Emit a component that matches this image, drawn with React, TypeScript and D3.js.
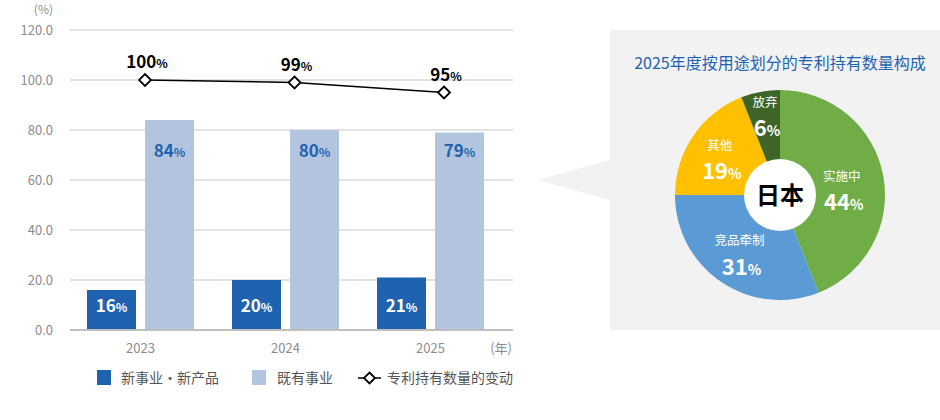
import React from "react";
import * as d3 from "d3";

const years = ["2023", "2024", "2025"];
const newBiz = [16, 20, 21];
const existing = [84, 80, 79];
const patentChange = [100, 99, 95];
const yTicks = [0, 20, 40, 60, 80, 100, 120];
const seriesNames = ["新事业・新产品", "既有事业", "专利持有数量的变动"];

const pieLabels = ["实施中", "竞品牵制", "其他", "放弃"];
const pieValues = [44, 31, 19, 6];
const pieColors = ["#70ad47", "#5b9bd5", "#ffc000", "#3e6428"];
const pieLabelRadius = [62, 72, 70, 80];
const pieLabelAngleShift = [0.11, 0, -0.06, 0];

const FONT = "'Noto Sans CJK SC', 'Noto Sans', sans-serif";
const DARK = "#1f63b0";
const LIGHT = "#b3c5de";

export default function App() {
  const y = d3.scaleLinear().domain([0, 120]).range([330, 30]);
  const x0 = d3.scaleBand<string>().domain(years).range([68, 503]).padding(0);
  const x1 = d3
    .scaleBand<string>()
    .domain(["new", "exist"])
    .range([0, 107])
    .paddingInner(9 / 58)
    .paddingOuter(0);
  const xLine = d3.scalePoint<string>().domain(years).range([145, 444]);
  const groupStart = (yr: string) => (x0(yr) as number) + x0.bandwidth() / 2 - 53.5;

  const lineGen = d3
    .line<number>()
    .x((_, i) => xLine(years[i]) as number)
    .y((d) => y(d));

  const cx = 780;
  const cy = 195;
  const R = 105;
  const pie = d3.pie<number>().sort(null).value((d) => d);
  const arcs = pie(pieValues);
  const arcGen = d3.arc<d3.PieArcDatum<number>>().innerRadius(0).outerRadius(R);

  const diamond = (px: number, py: number, s: number) =>
    `M${px},${py - s} L${px + s},${py} L${px},${py + s} L${px - s},${py} Z`;

  return (
    <svg
      width={940}
      height={420}
      style={{ position: "absolute", left: 0, top: 0, fontFamily: FONT }}
    >
      <rect x={0} y={0} width={940} height={420} fill="#fff" />
      {/* Y axis label */}
      <text x={53} y={14} textAnchor="end" fontSize={12} fill="#8c8c8c">
        (%)
      </text>
      {yTicks.map((t) => (
        <g key={t}>
          {t !== 0 && (
            <line x1={70} x2={513} y1={y(t)} y2={y(t)} stroke="#d9d9d9" strokeWidth={1.5} />
          )}
          <text
            x={53}
            y={y(t)}
            dy="0.35em"
            textAnchor="end"
            fontSize={13}
            fill="#8c8c8c"
          >
            {d3.format(".1f")(t)}
          </text>
        </g>
      ))}
      {/* Bars */}
      {years.map((yr, i) => {
        const gs = groupStart(yr);
        const xd = gs + (x1("new") as number);
        const xl = gs + (x1("exist") as number);
        const w = x1.bandwidth();
        return (
          <g key={yr}>
            <rect x={xd} y={y(newBiz[i])} width={w} height={y(0) - y(newBiz[i])} fill={DARK} />
            <rect
              x={xl}
              y={y(existing[i])}
              width={w}
              height={y(0) - y(existing[i])}
              fill={LIGHT}
            />
            <text x={xd + w / 2} y={312} textAnchor="middle" fill="#fff" fontWeight="bold">
              <tspan fontSize={17}>{newBiz[i]}</tspan>
              <tspan fontSize={12}>%</tspan>
            </text>
            <text x={xl + w / 2} y={157} textAnchor="middle" fill={DARK} fontWeight="bold">
              <tspan fontSize={17}>{existing[i]}</tspan>
              <tspan fontSize={12}>%</tspan>
            </text>
            <text
              x={(x0(yr) as number) + x0.bandwidth() / 2}
              y={348}
              dy="0.35em"
              textAnchor="middle"
              fontSize={13}
              fill="#8c8c8c"
            >
              {yr}
            </text>
          </g>
        );
      })}
      {/* x axis line */}
      <line x1={70} x2={513} y1={y(0)} y2={y(0)} stroke="#bfbfbf" strokeWidth={2} />
      <text x={512} y={348} dy="0.35em" textAnchor="end" fontSize={13} fill="#8c8c8c">
        (年)
      </text>
      {/* Line */}
      <path d={lineGen(patentChange) || ""} fill="none" stroke="#000" strokeWidth={1.5} />
      {patentChange.map((v, i) => {
        const px = xLine(years[i]) as number;
        const py = y(v);
        return (
          <g key={i}>
            <path d={diamond(px, py, 6)} fill="#fff" stroke="#000" strokeWidth={1.8} />
            <text x={px + 2} y={py - 12} textAnchor="middle" fill="#000" fontWeight="bold">
              <tspan fontSize={17}>{v}</tspan>
              <tspan fontSize={12}>%</tspan>
            </text>
          </g>
        );
      })}
      {/* Legend */}
      <rect x={97} y={370} width={14} height={15} fill={DARK} />
      <text x={121} y={378} dy="0.35em" fontSize={14} fill="#555">
        {seriesNames[0]}
      </text>
      <rect x={252} y={370} width={14} height={15} fill={LIGHT} />
      <text x={277} y={378} dy="0.35em" fontSize={14} fill="#555">
        {seriesNames[1]}
      </text>
      <line x1={358} x2={381} y1={378} y2={378} stroke="#000" strokeWidth={1.5} />
      <path d={diamond(369.5, 378, 5.5)} fill="#fff" stroke="#000" strokeWidth={1.8} />
      <text x={387} y={378} dy="0.35em" fontSize={14} fill="#555">
        {seriesNames[2]}
      </text>

      {/* Right panel */}
      <rect x={610} y={30} width={330} height={300} fill="#f2f2f2" />
      <path d="M610,160 L537,180 L610,200 Z" fill="#f2f2f2" />
      <text x={780} y={63} dy="0.35em" textAnchor="middle" fontSize={16} fill={DARK}>
        2025年度按用途划分的专利持有数量构成
      </text>
      <g transform={`translate(${cx},${cy})`}>
        {arcs.map((a, i) => (
          <path key={i} d={arcGen(a) || ""} fill={pieColors[i]} />
        ))}
        {arcs.map((a, i) => {
          const mid = (a.startAngle + a.endAngle) / 2 + pieLabelAngleShift[i];
          const r = pieLabelRadius[i];
          const lx = Math.sin(mid) * r;
          const ly = -Math.cos(mid) * r;
          return (
            <g key={"l" + i}>
              <text x={lx} y={ly - 14} dy="0.35em" textAnchor="middle" fontSize={12.5} fill="#fff">
                {pieLabels[i]}
              </text>
              <text x={lx + 2} y={ly + 20} textAnchor="middle" fill="#fff" fontWeight="bold">
                <tspan fontSize={22}>{pieValues[i]}</tspan>
                <tspan fontSize={14}>%</tspan>
              </text>
            </g>
          );
        })}
        <circle r={36} fill="#fff" />
        <text y={0} dy="0.36em" textAnchor="middle" fontSize={24} fontWeight="bold" fill="#000">
          日本
        </text>
      </g>
    </svg>
  );
}
